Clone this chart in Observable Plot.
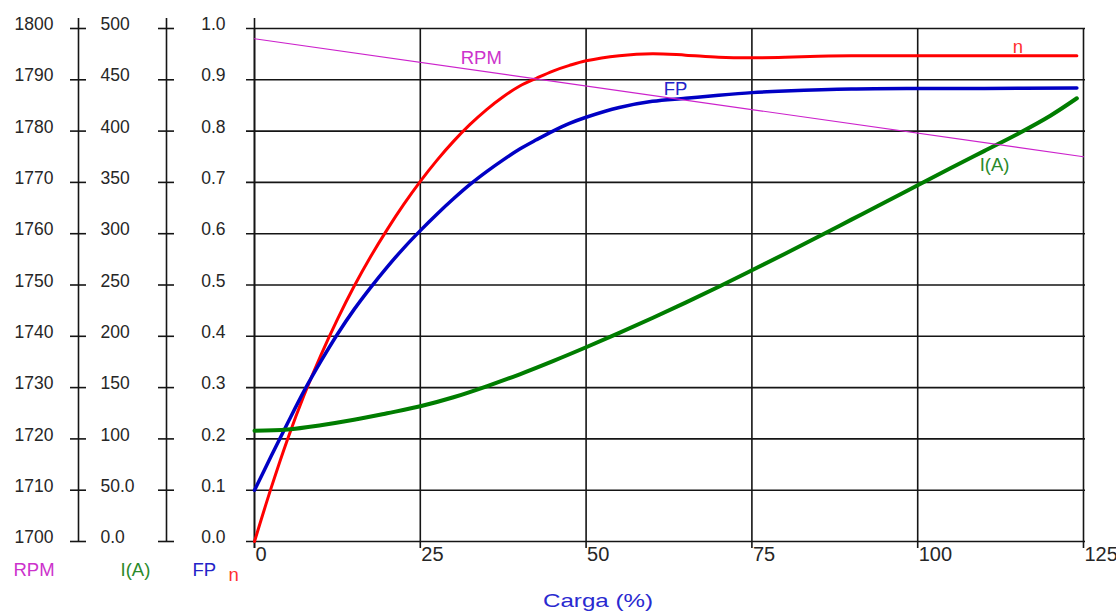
<!DOCTYPE html>
<html>
<head>
<meta charset="utf-8">
<script src="https://cdn.jsdelivr.net/npm/d3@7"></script>
<script src="https://cdn.jsdelivr.net/npm/@observablehq/plot@0.6"></script>
<style>
  body { margin: 0; background: #fff; }
  #chart svg { font-family: "Liberation Sans", Arial, sans-serif; }
</style>
</head>
<body>
<div id="chart"></div>
<script>
// ---- data ----
// Efficiency n (0..1) vs load (%)
const loadN = [0, 2.5, 5, 7.5, 10, 12.5, 15, 17.5, 20, 22.5, 25, 27.5, 30, 32.5, 35, 37.5, 40, 42.5, 45, 47.5, 50, 55, 60, 65, 70, 75, 80, 85, 90, 100, 110, 124];
const effN  = [0, 0.104, 0.200, 0.286, 0.363, 0.433, 0.497, 0.555, 0.608, 0.657, 0.702, 0.743, 0.780, 0.813, 0.842, 0.867, 0.888, 0.903, 0.917, 0.928, 0.937, 0.947, 0.951, 0.948, 0.944, 0.943, 0.944, 0.946, 0.947, 0.947, 0.947, 0.947];

// Power factor FP (0..1) vs load (%)
const loadFP = [0, 2.5, 5, 7.5, 10, 12.5, 15, 17.5, 20, 22.5, 25, 27.5, 30, 32.5, 35, 37.5, 40, 42.5, 45, 47.5, 50, 55, 60, 65, 70, 75, 80, 90, 100, 110, 124];
const fpVals = [0.100, 0.166, 0.231, 0.294, 0.351, 0.404, 0.452, 0.495, 0.535, 0.572, 0.606, 0.638, 0.668, 0.696, 0.721, 0.744, 0.765, 0.783, 0.800, 0.815, 0.827, 0.846, 0.858, 0.864, 0.870, 0.875, 0.878, 0.882, 0.883, 0.883, 0.884];

// Current I (A) vs load (%)
const loadI    = [0, 5, 10, 15, 20, 25, 30, 35, 40, 45, 50, 55, 60, 65, 70, 75, 80, 85, 90, 95, 100, 105, 110, 115, 120, 124];
const currentA = [108, 109.2, 113.3, 118.6, 125, 131.8, 140.6, 151.3, 163, 175.8, 189.3, 203.3, 217.8, 232.8, 248.3, 264.3, 280.5, 297, 313.7, 330.4, 347.3, 364, 380.5, 397, 415, 432];

// Speed RPM vs load (%)
const loadRPM = [0, 125];
const rpmVals = [1798, 1775];

// ticks
const xTicks = [0, 25, 50, 75, 100, 125];
const xTickLabels = ["0", "25", "50", "75", "100", "125"];
const fpTicks = [0, 0.1, 0.2, 0.3, 0.4, 0.5, 0.6, 0.7, 0.8, 0.9, 1.0];
const fpTickLabels = ["0.0", "0.1", "0.2", "0.3", "0.4", "0.5", "0.6", "0.7", "0.8", "0.9", "1.0"];
const iTicks = [0, 50, 100, 150, 200, 250, 300, 350, 400, 450, 500];
const iTickLabels = ["0.0", "50.0", "100", "150", "200", "250", "300", "350", "400", "450", "500"];
const rpmTicks = [1700, 1710, 1720, 1730, 1740, 1750, 1760, 1770, 1780, 1790, 1800];
const rpmTickLabels = ["1700", "1710", "1720", "1730", "1740", "1750", "1760", "1770", "1780", "1790", "1800"];

// curve labels (data units: load %, normalized 0..1)
const curveLabels = [
  {text: "RPM",  x: 34.2,  y: 0.943, color: "#cc33cc"},
  {text: "FP",   x: 63.5,  y: 0.881, color: "#2323c8"},
  {text: "n",    x: 115.1, y: 0.963, color: "#ff3030"},
  {text: "I(A)", x: 111.6, y: 0.734, color: "#2a8a2a"}
];

// ---- normalisation of the secondary scales to the shared 0..1 axis ----
const yI = v => v / 500;
const yR = v => (v - 1700) / 100;

const nData = loadN.map((x, i) => ({x, y: effN[i]}));
const fpData = loadFP.map((x, i) => ({x, y: fpVals[i]}));
const iData = loadI.map((x, i) => ({x, y: yI(currentA[i])}));
const rpmData = loadRPM.map((x, i) => ({x, y: yR(rpmVals[i])}));

const ink = "#151515";
const txt = "#262626";

const chart = Plot.plot({
  width: 1116,
  height: 614,
  marginLeft: 254,
  marginRight: 33,
  marginTop: 28,
  marginBottom: 73,
  x: {domain: [0, 125], axis: null},
  y: {domain: [0, 1], axis: null},
  style: {background: "#fff", fontFamily: "'Liberation Sans', Arial, sans-serif", fontSize: "17px", overflow: "visible"},
  marks: [
    // grid
    Plot.ruleX(xTicks, {x: d => d, stroke: ink, strokeWidth: 1.6, insetBottom: -7}),
    Plot.ruleY(fpTicks, {y: d => d, stroke: ink, strokeWidth: 1.6, insetLeft: -8, insetRight: -2}),
    // main axis line
    Plot.ruleX([0], {x: d => d, stroke: ink, strokeWidth: 1.6, insetTop: -10, insetBottom: -7}),
    // I(A) axis
    Plot.ruleX([0], {x: d => d, dx: -88, stroke: ink, strokeWidth: 1.6, insetTop: -10}),
    Plot.ruleY(iTicks, {y: yI, x1: 0, x2: 0, insetLeft: -8, insetRight: -8, dx: -88, stroke: ink, strokeWidth: 1.6}),
    // RPM axis
    Plot.ruleX([0], {x: d => d, dx: -176, stroke: ink, strokeWidth: 1.6, insetTop: -10}),
    Plot.ruleY(rpmTicks, {y: yR, x1: 0, x2: 0, insetLeft: -8, insetRight: -8, dx: -176, stroke: ink, strokeWidth: 1.6}),

    // tick labels
    Plot.text(rpmTicks, {y: yR, text: (d, i) => rpmTickLabels[i], frameAnchor: "left", textAnchor: "end", dx: -201, dy: -4, fill: txt, fontSize: 17.5}),
    Plot.text(iTicks, {y: yI, text: (d, i) => iTickLabels[i], frameAnchor: "left", textAnchor: "start", dx: -154, dy: -4, fill: txt, fontSize: 17.5}),
    Plot.text(fpTicks, {y: d => d, text: (d, i) => fpTickLabels[i], frameAnchor: "left", textAnchor: "end", dx: -29, dy: -4, fill: txt, fontSize: 17.5}),
    Plot.text(xTicks, {x: d => d, text: (d, i) => xTickLabels[i], frameAnchor: "bottom", textAnchor: "start", dx: 1, dy: 19, fill: txt, fontSize: 20}),

    // curves
    Plot.line(nData, {x: "x", y: "y", stroke: "#ff0000", strokeWidth: 3, curve: "catmull-rom"}),
    Plot.line(fpData, {x: "x", y: "y", stroke: "#0000c4", strokeWidth: 3.5, curve: "catmull-rom"}),
    Plot.line(iData, {x: "x", y: "y", stroke: "#007d00", strokeWidth: 4, curve: "catmull-rom"}),
    Plot.line(rpmData, {x: "x", y: "y", stroke: "#cc22cc", strokeWidth: 1.2}),

    // curve labels
    Plot.text(curveLabels, {x: "x", y: "y", text: "text", fill: "color", fontSize: 18.5}),

    // legend row under the axes
    Plot.text(["RPM"], {frameAnchor: "bottom-left", textAnchor: "start", dx: -241, dy: 34, fill: "#cc33cc", fontSize: 18.5}),
    Plot.text(["I(A)"], {frameAnchor: "bottom-left", textAnchor: "start", dx: -134, dy: 34, fill: "#2a8a2a", fontSize: 18.5}),
    Plot.text(["FP"], {frameAnchor: "bottom-left", textAnchor: "start", dx: -62, dy: 34, fill: "#2323c8", fontSize: 18.5}),
    Plot.text(["n"], {frameAnchor: "bottom-left", textAnchor: "start", dx: -26, dy: 39, fill: "#ff3030", fontSize: 18.5}),

    // x axis title
    Plot.text(["Carga (%)"], {frameAnchor: "bottom", dx: -71, dy: 65, fill: "#2a2ad0", fontSize: 19})
  ]
});

// the reference's axis title is drawn with a wide face: stretch it to its measured width
d3.select(chart).selectAll("text")
  .filter(function () { return this.textContent === "Carga (%)"; })
  .attr("textLength", 110)
  .attr("lengthAdjust", "spacingAndGlyphs");

document.getElementById("chart").appendChild(chart);
</script>
</body>
</html>
